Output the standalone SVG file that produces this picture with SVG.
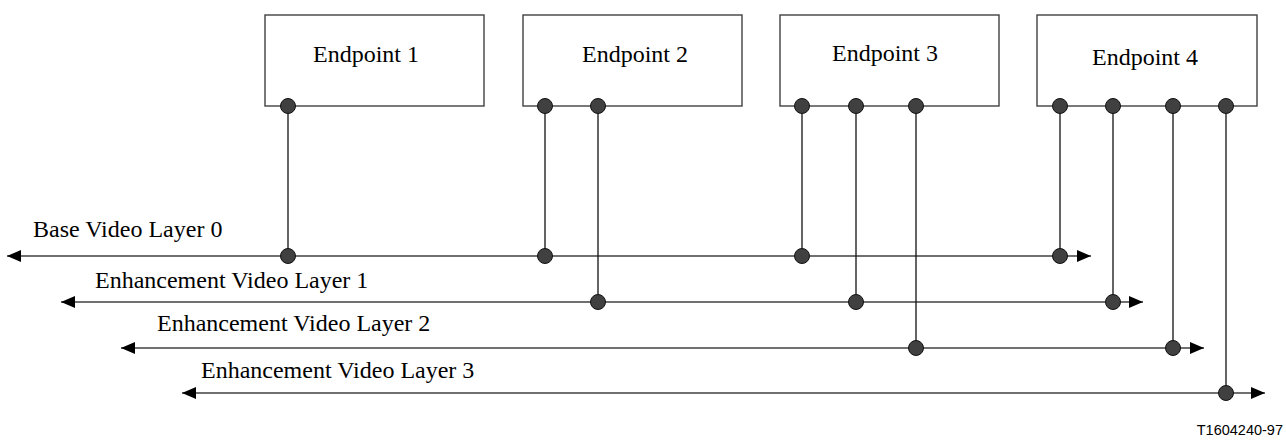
<svg xmlns="http://www.w3.org/2000/svg" width="1286" height="445" viewBox="0 0 1286 445">
<style>
.box{fill:#fff;stroke:#404040;stroke-width:1.4}
.lbl{font-family:"Liberation Serif","Times New Roman",serif;font-size:24px;fill:#000}
.ln{stroke:#404040;stroke-width:1.4;fill:none}
.vl{stroke:#111;stroke-width:1.3;fill:none}
.dot{fill:#404040;stroke:#111;stroke-width:1}
</style>
<defs>
<marker id="ah" viewBox="0 0 14 12" refX="14" refY="6" markerWidth="14" markerHeight="12" markerUnits="userSpaceOnUse" orient="auto-start-reverse">
<path d="M0,0 L14,6 L0,12 Z" fill="#000"/>
</marker>
</defs>
<rect width="1286" height="445" fill="#fff"/>
<g id="ep1"><rect class="box" x="265" y="15" width="219" height="91"/><text class="lbl" x="313" y="62">Endpoint 1</text></g>
<g id="ep2"><rect class="box" x="523" y="15" width="219" height="91"/><text class="lbl" x="582" y="62">Endpoint 2</text></g>
<g id="ep3"><rect class="box" x="780" y="15" width="219" height="91"/><text class="lbl" x="832" y="61">Endpoint 3</text></g>
<g id="ep4"><rect class="box" x="1037" y="15" width="220" height="91"/><text class="lbl" x="1092" y="65">Endpoint 4</text></g>
<g id="layers">
<g id="layer0"><line class="ln" x1="7" y1="256" x2="1091" y2="256" marker-start="url(#ah)" marker-end="url(#ah)"/><text class="lbl" x="33" y="237">Base Video Layer 0</text></g>
<g id="layer1"><line class="ln" x1="61" y1="302" x2="1143" y2="302" marker-start="url(#ah)" marker-end="url(#ah)"/><text class="lbl" x="95" y="288">Enhancement Video Layer 1</text></g>
<g id="layer2"><line class="ln" x1="121" y1="348" x2="1204" y2="348" marker-start="url(#ah)" marker-end="url(#ah)"/><text class="lbl" x="157" y="331">Enhancement Video Layer 2</text></g>
<g id="layer3"><line class="ln" x1="182" y1="393" x2="1265" y2="393" marker-start="url(#ah)" marker-end="url(#ah)"/><text class="lbl" x="201" y="378">Enhancement Video Layer 3</text></g>
</g>
<g id="connectors">
<line class="vl" x1="288" y1="106" x2="288" y2="256"/>
<line class="vl" x1="545" y1="106" x2="545" y2="256"/>
<line class="vl" x1="598" y1="106" x2="598" y2="302"/>
<line class="vl" x1="802" y1="106" x2="802" y2="256"/>
<line class="vl" x1="856" y1="106" x2="856" y2="302"/>
<line class="vl" x1="916" y1="106" x2="916" y2="348"/>
<line class="vl" x1="1060" y1="106" x2="1060" y2="256"/>
<line class="vl" x1="1113" y1="106" x2="1113" y2="302"/>
<line class="vl" x1="1173" y1="106" x2="1173" y2="348"/>
<line class="vl" x1="1226" y1="106" x2="1226" y2="393"/>
</g>
<g id="dots">
<circle class="dot" cx="288" cy="106" r="7.5"/><circle class="dot" cx="288" cy="256" r="7.5"/>
<circle class="dot" cx="545" cy="106" r="7.5"/><circle class="dot" cx="545" cy="256" r="7.5"/>
<circle class="dot" cx="598" cy="106" r="7.5"/><circle class="dot" cx="598" cy="302" r="7.5"/>
<circle class="dot" cx="802" cy="106" r="7.5"/><circle class="dot" cx="802" cy="256" r="7.5"/>
<circle class="dot" cx="856" cy="106" r="7.5"/><circle class="dot" cx="856" cy="302" r="7.5"/>
<circle class="dot" cx="916" cy="106" r="7.5"/><circle class="dot" cx="916" cy="348" r="7.5"/>
<circle class="dot" cx="1060" cy="106" r="7.5"/><circle class="dot" cx="1060" cy="256" r="7.5"/>
<circle class="dot" cx="1113" cy="106" r="7.5"/><circle class="dot" cx="1113" cy="302" r="7.5"/>
<circle class="dot" cx="1173" cy="106" r="7.5"/><circle class="dot" cx="1173" cy="348" r="7.5"/>
<circle class="dot" cx="1226" cy="106" r="7.5"/><circle class="dot" cx="1226" cy="393" r="7.5"/>
</g>
<text x="1283" y="435" text-anchor="end" font-family="Liberation Sans, Arial, sans-serif" font-size="14.5" fill="#000">T1604240-97</text>
</svg>
